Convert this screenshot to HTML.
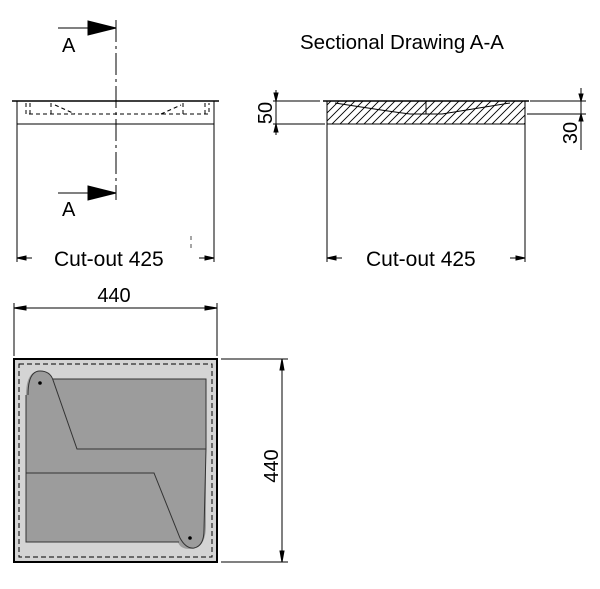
<!DOCTYPE html>
<html><head><style>body{margin:0;background:#fff}svg{display:block}text{font-family:"Liberation Sans",sans-serif;fill:#000}</style></head>
<body>
<svg width="600" height="589" viewBox="0 0 600 589" xmlns="http://www.w3.org/2000/svg">
<defs>
<pattern id="h" width="8" height="8" patternUnits="userSpaceOnUse">
<path d="M-1 9L9 -1M-5 5L5 -5M3 13L13 3" stroke="#000" stroke-width="0.9"/>
</pattern>
</defs>
<g stroke="#000" fill="none" stroke-width="1">
<line x1="12" y1="101" x2="219" y2="101" stroke-width="1.6"/>
<rect x="17" y="101" width="197" height="23"/>
<line x1="17" y1="124" x2="17" y2="262"/>
<line x1="214" y1="124" x2="214" y2="262"/>
<path d="M26 103V114H209V103M30 103V114M205 103V114M51 103V114M183 103V114M55 105L75 114M161 114L181 105" stroke-dasharray="4,3"/>
<line x1="116" y1="20" x2="116" y2="200" stroke-dasharray="22,4,3,4"/>
<line x1="58" y1="28" x2="88" y2="28"/>
<polygon points="88,21 116,28 88,35" fill="#000"/>
<line x1="58" y1="193" x2="88" y2="193"/>
<polygon points="88,186 116,193 88,200" fill="#000"/>
<line x1="17" y1="258" x2="32" y2="258"/>
<line x1="199" y1="258" x2="214" y2="258"/>
<polygon points="17,258 26,256 26,260" fill="#000"/>
<polygon points="214,258 205,256 205,260" fill="#000"/>
<line x1="191" y1="236" x2="191" y2="240" stroke-width="0.7"/>
<line x1="191" y1="244" x2="191" y2="248" stroke-width="0.7"/>
<line x1="323" y1="101" x2="529" y2="101" stroke-width="1.6"/>
<rect x="327" y="101" width="198" height="23" fill="url(#h)"/>
<path d="M335 103Q380 110 410 114L426 114V101M426 114H442Q480 108 510 103"/>
<line x1="327" y1="124" x2="327" y2="262"/>
<line x1="525" y1="124" x2="525" y2="262"/>
<line x1="327" y1="258" x2="342" y2="258"/>
<line x1="510" y1="258" x2="525" y2="258"/>
<polygon points="327,258 336,256 336,260" fill="#000"/>
<polygon points="525,258 516,256 516,260" fill="#000"/>
<line x1="276" y1="90" x2="276" y2="135"/>
<line x1="273" y1="101" x2="320" y2="101"/>
<line x1="273" y1="124" x2="325" y2="124"/>
<polygon points="276,101 274,93 278,93" fill="#000"/>
<polygon points="276,124 274,132 278,132" fill="#000"/>
<line x1="581" y1="88" x2="581" y2="150"/>
<line x1="530" y1="101" x2="586" y2="101"/>
<line x1="527" y1="114" x2="586" y2="114"/>
<polygon points="581,101 579,94 583,94" fill="#000"/>
<polygon points="581,114 579,121 583,121" fill="#000"/>
<line x1="14" y1="303" x2="14" y2="356"/>
<line x1="217" y1="303" x2="217" y2="356"/>
<line x1="14" y1="308" x2="217" y2="308"/>
<polygon points="14,308 26,306 26,310" fill="#000"/>
<polygon points="217,308 205,306 205,310" fill="#000"/>
<line x1="221" y1="359" x2="288" y2="359"/>
<line x1="221" y1="562" x2="288" y2="562"/>
<line x1="282" y1="359" x2="282" y2="562"/>
<polygon points="282,359 280,370 284,370" fill="#000"/>
<polygon points="282,562 280,551 284,551" fill="#000"/>
<rect x="14" y="359" width="203" height="203" fill="#d4d4d4" stroke-width="2"/>
<rect x="19" y="364" width="193" height="193" stroke-dasharray="5,3"/>
<path d="M26 542V395Q26 371 40 371Q50 371 52 379H206V525Q206 549 190 549Q180 549 178 542Z" fill="#9c9c9c" stroke="none"/>
<path d="M28 395Q28 371 40 371Q50 371 53 380L77 449H206V379H53M26 395V542H179M26 473H154L180 538Q186 549 194 548Q204 546 204 530L206 449" stroke="#333"/>
<circle cx="40" cy="383" r="1.3" fill="#000"/>
<circle cx="190" cy="538" r="1.3" fill="#000"/>
</g>
<text x="62" y="52" font-size="20">A</text>
<text x="62" y="216" font-size="20">A</text>
<text x="54" y="266" font-size="21">Cut-out 425</text>
<text x="366" y="266" font-size="21">Cut-out 425</text>
<text x="300" y="49" font-size="20.5">Sectional Drawing A-A</text>
<text x="114" y="302" font-size="20" text-anchor="middle">440</text>
<text transform="translate(272,113) rotate(-90)" font-size="20" text-anchor="middle">50</text>
<text transform="translate(577,133) rotate(-90)" font-size="20" text-anchor="middle">30</text>
<text transform="translate(278,466) rotate(-90)" font-size="20" text-anchor="middle">440</text>
</svg>
</body></html>
